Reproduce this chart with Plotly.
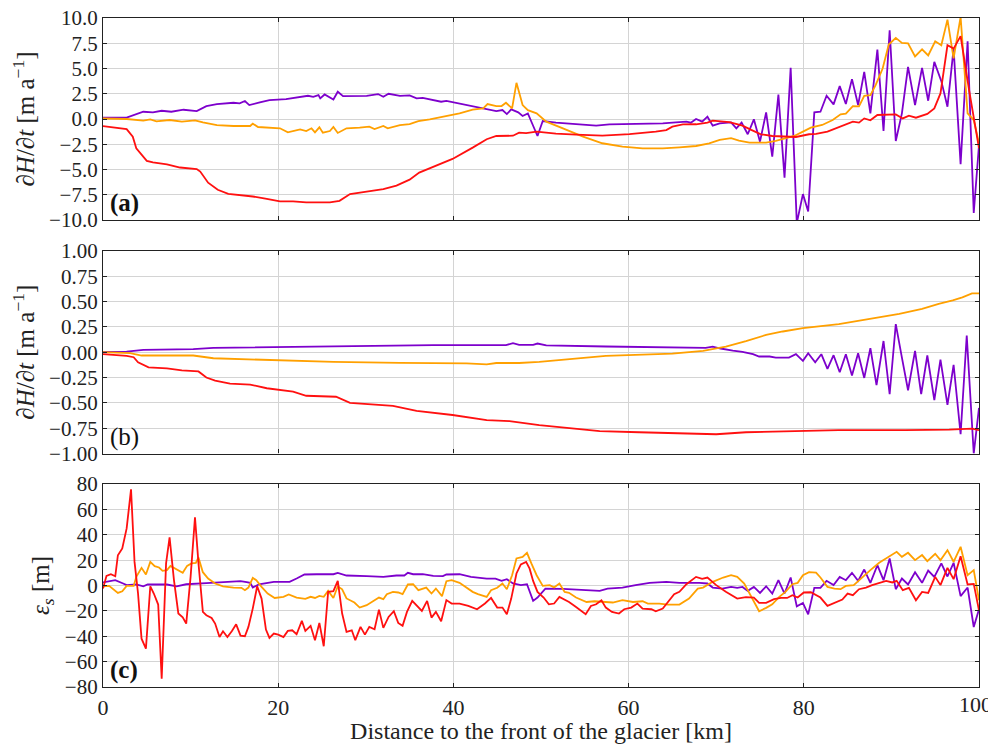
import plotly.graph_objects as go

# ---------------- Panel (a): dH/dt [m/a] ----------------
a_red_x = [0, 2.7, 3.4, 3.8, 5.0, 5.7, 7.3, 8.8, 10.7, 11.1, 12.0, 13.1, 14.3, 15.6, 17.1, 18.7, 20.2, 21.7, 23.2, 25.9,
           27.0, 28.2, 30.1, 32.0, 33.5, 35.0, 36.1, 37.7, 39.9, 42.2, 43.8, 44.9, 46.8, 47.5, 48.3, 49.5, 51.7, 54.0,
           57.0, 60.1, 61.6, 63.1, 64.3, 65.0, 66.2, 67.7, 69.0, 69.6, 71.5, 73.0, 74.0, 75.1, 76.4, 78.0, 79.1, 80.6,
           81.4, 82.7, 84.0, 84.8, 85.6, 86.3, 86.9, 87.6, 88.4, 90.5, 91.3, 92.0, 92.8, 94.1, 94.9, 95.6, 96.4, 97.1,
           97.9, 98.9, 100]
a_red_y = [-0.7, -1.0, -1.75, -2.9, -4.15, -4.3, -4.5, -4.8, -4.95, -5.2, -6.3, -7.0, -7.4, -7.5, -7.67, -7.9, -8.16,
           -8.16, -8.26, -8.26, -8.1, -7.43, -7.17, -6.94, -6.6, -6.0, -5.3, -4.7, -3.95, -2.83, -2.0, -1.68, -1.65,
           -1.35, -1.4, -1.25, -1.45, -1.55, -1.65, -1.5, -1.4, -1.25, -1.1, -0.76, -0.53, -0.52, -0.35, -0.16, -0.3,
           -0.65, -1.08, -1.51, -1.68, -1.74, -1.78, -1.51, -1.48, -1.25, -0.82, -0.6, -0.26, -0.36, 0.06, -0.13, 0.4,
           0.46, 0.06, 0.33, 0.13, 0.5, 1.05, 2.53, 7.3, 6.97, 8.2, 2.7, -2.9]

a_orange_x = [0, 2.7, 4.6, 5.4, 6.1, 7.6, 9.0, 10.5, 11.4, 13.0, 14.9, 16.8, 17.1, 17.7, 20.2, 21.1, 22.5, 23.2, 23.8,
              24.2, 24.7, 25.1, 25.9, 26.3, 26.8, 27.8, 29.3, 30.4, 31.0, 32.0, 32.5, 33.9, 35.0, 36.0, 37.3, 38.8,
              40.7, 42.2, 43.4, 43.9, 44.9, 45.5, 46.0, 46.7, 47.2, 47.9, 48.5, 49.5, 50.6, 52.5, 54.8, 57.0, 59.3,
              61.6, 63.9, 65.8, 67.7, 69.2, 70.4, 71.7, 72.6, 73.8, 75.7, 76.8, 78.0, 78.9, 79.9, 80.8, 82.1, 83.3,
              84.2, 84.8, 85.6, 86.3, 86.9, 87.6, 88.2, 89.0, 89.7, 90.5, 91.2, 91.9, 92.7, 93.5, 94.2, 95.0, 95.7,
              96.4, 97.1, 97.9, 98.7, 99.4, 100]
a_orange_y = [0.05, 0.0, -0.16, -0.03, -0.23, -0.1, -0.26, -0.13, -0.33, -0.6, -0.69, -0.69, -0.46, -0.79, -0.92,
              -1.32, -1.03, -1.19, -0.92, -1.32, -0.82, -1.35, -1.19, -0.79, -1.38, -0.92, -0.86, -0.76, -0.99, -0.69,
              -0.92, -0.6, -0.5, -0.2, -0.03, 0.23, 0.56, 0.92, 1.05, 1.48, 1.28, 1.28, 1.61, 1.05, 3.58, 1.38, 0.88,
              0.56, -0.26, -0.92, -1.75, -2.4, -2.73, -2.9, -2.9, -2.8, -2.67, -2.4, -2.07, -1.9, -2.13, -2.34, -2.34,
              -2.17, -1.9, -1.68, -1.25, -0.86, -0.59, -0.1, 0.46, 0.53, 1.28, 1.25, 2.3, 2.37, 3.36, 5.0, 7.37, 8.03,
              7.54, 7.5, 6.2, 6.9, 6.3, 7.7, 7.3, 9.84, 6.0, 10.1, 0.56, -0.1, -2.4]

a_purple_x = [0, 2.7, 4.6, 5.7, 6.7, 7.8, 9.2, 10.7, 11.8, 13.0, 14.9, 15.6, 16.2, 16.7, 17.9, 19.0, 20.9, 22.5, 23.4,
              24.0, 24.6, 24.8, 25.3, 26.3, 26.8, 27.4, 30.1, 31.4, 32.0, 32.6, 33.9, 35.0, 35.8, 36.5, 37.5, 38.6,
              39.2, 40.3, 41.8, 43.0, 44.1, 44.9, 45.6, 46.1, 46.6, 47.4, 47.9, 48.5, 49.6, 50.2, 51.7, 54.0, 56.3,
              57.8, 61.6, 63.9, 65.4, 66.6, 67.1, 67.7, 68.4, 69.0, 69.6, 70.4, 71.7, 72.3, 72.9, 73.6, 74.3, 75.0,
              75.7, 76.4, 77.1, 77.8, 78.5, 79.2, 79.9, 80.5, 81.2, 81.9, 82.6, 83.4, 84.1, 84.8, 85.5, 86.2, 86.9,
              87.6, 88.4, 89.1, 89.8, 90.5, 91.2, 91.9, 92.7, 93.5, 94.2, 94.9, 95.7, 96.4, 97.1, 97.9, 98.7, 99.4, 100]
a_purple_y = [0.13, 0.13, 0.72, 0.66, 0.82, 0.72, 0.92, 0.79, 1.28, 1.48, 1.61, 1.55, 1.78, 1.38, 1.65, 1.88, 1.97,
              2.14, 2.3, 2.2, 2.37, 2.04, 2.43, 1.94, 2.7, 2.27, 2.3, 2.47, 2.2, 2.5, 2.3, 2.34, 2.04, 2.1, 1.88, 1.71,
              1.8, 1.61, 1.38, 1.12, 0.99, 0.79, 0.89, 0.49, 0.95, 0.66, 0.3, 0.56, -1.68, -0.2, -0.36, -0.5, -0.66,
              -0.53, -0.5, -0.43, -0.33, -0.26, -0.36, 0.0, -0.26, 0.23, -0.66, -0.43, -0.33, -0.92, -0.36, -1.51,
              -0.03, -2.24, 0.66, -3.72, 2.43, -5.8, 5.07, -10.3, -7.43, -9.15, 0.66, 0.72, 2.3, 1.45, 3.26, 1.48,
              3.95, 1.38, 4.67, 0.56, 6.88, -1.18, 8.79, -2.17, 0.56, 5.17, 1.38, 5.07, 1.81, 5.66, 3.75, 1.22, 6.97,
              -4.47, 7.7, -9.3, -2.57]

# ---------------- Panel (b): dH/dt [m/a] ----------------
b_red_x = [0, 2.7, 3.5, 4.0, 5.2, 7.3, 9.0, 10.9, 11.8, 12.8, 14.5, 16.8, 18.7, 20.2, 21.7, 23.2, 26.6, 28.2, 30.1,
           33.1, 35.8, 39.9, 43.8, 46.4, 49.8, 52.9, 56.7, 61.2, 70.0, 73.4, 79.5, 84.0, 91.6, 94.3, 96.6, 99.2, 100]
b_red_y = [-0.02, -0.037, -0.05, -0.10, -0.15, -0.16, -0.18, -0.19, -0.25, -0.28, -0.31, -0.32, -0.356, -0.375,
           -0.39, -0.43, -0.44, -0.50, -0.51, -0.53, -0.58, -0.62, -0.67, -0.68, -0.72, -0.75, -0.78, -0.79, -0.81,
           -0.79, -0.78, -0.77, -0.77, -0.77, -0.765, -0.755, -0.77]

b_orange_x = [0, 3.1, 4.4, 7.3, 10.3, 12.6, 16.8, 20.9, 26.3, 33.9, 41.5, 43.8, 44.9, 47.5, 49.8, 57.4, 65.0, 68.5,
              71.1, 73.4, 75.7, 77.6, 79.9, 84.0, 87.8, 90.9, 93.5, 95.4, 97.0, 98.1, 99.2, 100]
b_orange_y = [0.0, -0.01, -0.033, -0.036, -0.033, -0.06, -0.07, -0.083, -0.096, -0.105, -0.11, -0.12, -0.107, -0.107,
              -0.096, -0.037, -0.014, 0.013, 0.055, 0.11, 0.17, 0.204, 0.237, 0.277, 0.33, 0.378, 0.428, 0.477, 0.51,
              0.54, 0.58, 0.58]

b_purple_x = [0, 2.7, 4.6, 10.3, 12.6, 20.2, 28.2, 37.7, 46.0, 46.8, 47.5, 49.1, 49.6, 50.6, 57.4, 65.0, 68.8, 69.6,
              70.5, 71.9, 73.0, 74.2, 74.9, 76.1, 76.8, 78.3, 79.1, 79.9, 80.5, 81.3, 82.0, 82.7, 83.4, 84.1, 84.8,
              85.5, 86.2, 86.9, 87.6, 88.3, 89.1, 89.8, 90.5, 91.2, 91.9, 92.7, 93.4, 94.1, 94.9, 95.6, 96.4, 97.1,
              97.9, 98.6, 99.4, 100]
b_purple_y = [0.003, 0.005, 0.023, 0.03, 0.042, 0.052, 0.062, 0.069, 0.069, 0.089, 0.072, 0.072, 0.085, 0.066, 0.056,
              0.046, 0.042, 0.055, 0.036, 0.016, 0.003, -0.02, -0.043, -0.043, -0.053, -0.053, -0.02, -0.086, -0.01,
              -0.1, -0.02, -0.165, -0.03, -0.198, -0.02, -0.231, -0.01, -0.254, 0.039, -0.326, 0.11, -0.415, 0.277,
              -0.053, -0.376, 0.013, -0.415, -0.033, -0.474, -0.073, -0.52, -0.125, -0.81, 0.164, -1.0, -0.55]

# ---------------- Panel (c): eps_s [m] ----------------
c_red_x = [0, 0.4, 0.9, 1.4, 1.7, 2.2, 2.7, 3.2, 3.6, 4.0, 4.4, 4.9, 5.4, 5.8, 6.3, 6.7, 7.2, 7.6, 8.1, 8.6, 9.1, 9.5,
           10.0, 10.5, 10.9, 11.4, 11.8, 12.4, 12.8, 13.3, 13.7, 14.2, 14.7, 15.2, 15.7, 16.2, 16.6, 17.1, 17.6, 18.1,
           18.6, 19.0, 19.5, 20.0, 20.6, 21.1, 21.6, 22.1, 22.7, 23.1, 23.7, 24.2, 24.7, 25.2, 25.7, 26.3, 26.8, 27.3,
           27.8, 28.4, 28.8, 29.4, 29.9, 30.4, 31.0, 31.5, 32.0, 32.6, 33.2, 33.7, 34.2, 34.7, 35.3, 35.8, 36.4, 37.0,
           37.5, 38.0, 38.6, 39.2, 39.8, 40.7, 41.7, 42.7, 43.6, 44.3, 45.0, 45.6, 46.1, 46.6, 47.2, 47.7, 48.3, 48.7,
           49.1, 49.6, 50.3, 50.9, 51.5, 52.1, 52.7, 53.2, 54.0, 55.1, 55.7, 56.3, 56.9, 57.4, 58.1, 58.9, 59.5, 60.3,
           61.0, 61.6, 62.6, 63.1, 63.9, 64.7, 65.2, 65.8, 66.6, 67.7, 68.4, 69.0, 70.0, 71.1, 72.4, 73.4, 74.3, 74.9,
           75.7, 76.6, 77.4, 78.1, 78.7, 79.3, 80.0, 80.8, 81.9, 82.7, 83.7, 84.4, 85.0, 85.6, 86.3, 87.1, 87.8, 88.6,
           89.4, 90.1, 90.6, 91.3, 92.0, 92.8, 93.5, 94.2, 95.0, 95.6, 96.4, 97.1, 97.9, 98.7, 99.4, 100]
c_red_y = [-2.4, 7.6, 8.9, 7.3, 23.9, 29.2, 45, 75.8, 18.6, -6.3, -41.9, -49.8, -0.6, -6.3, -15, -73.5, 17.4, 37.9,
           4.2, -22, -25, -30, 6.8, 53.7, 17.4, -20.8, -23.4, -25.6, -30, -40.6, -36.1, -40.6, -36, -30.6, -39.5, -40,
           -32.6, -18, -0.6, -10.3, -34.7, -41.3, -37.9, -38.7, -40.6, -35.8, -35.3, -38.4, -27.9, -35.8, -31.8,
           -43.1, -29.5, -47.9, -5, -4.5, 3.6, -22.1, -36.6, -35.3, -43.1, -32.6, -38.7, -32.6, -34.5, -19, -33.4,
           -24.8, -20.3, -29.5, -31.8, -20.8, -12.1, -16.1, -20, -12.1, -25.3, -20.8, -28.2, -11.5, -14.2, -14.2,
           -16.1, -18.7, -14.2, -9.8, -17.4, -17.4, -22.6, -10.3, 9.5, 16.6, 18.6, 13.3, 3.6, -5, -9.5, -14.8, -14.2,
           -9, -11.1, -13, -16.9, -22.6, -16.1, -14.8, -11.6, -17.4, -20.8, -22.1, -18.7, -17.4, -14.2, -18.2, -18.7,
           -20.3, -18.2, -11.6, -6.9, -5, 1.0, 6.8, 5.2, 6.3, 0.3, -5, -10.3, -9.2, -9.5, -13.7, -13.7, -10.8, -9.8,
           -9.8, -7.6, -9.5, -5.5, -5.3, -9.5, -16.1, -13, -11.1, -6.4, -7.6, -2.9, -1.6, 0.3, 2.1, 3.7, 2.4, 3.7,
           -3.7, -1.8, -11.6, -5, -5.8, 6.8, 0.3, 13.9, 5, 23.1, 0.8, 1.3, -19.5]

c_orange_x = [0, 0.7, 1.7, 2.2, 2.7, 3.5, 3.8, 4.4, 4.9, 5.4, 5.9, 6.4, 6.8, 7.3, 7.7, 8.2, 9.1, 9.6, 10.1, 10.6, 10.9,
              11.4, 12.0, 12.8, 13.7, 14.9, 15.8, 16.2, 16.6, 17.1, 17.5, 18.1, 18.8, 19.6, 20.6, 21.2, 22.1, 23.1,
              23.7, 24.2, 24.7, 25.2, 25.7, 26.3, 26.8, 27.3, 27.8, 28.7, 29.3, 30.1, 30.7, 31.5, 32.0, 32.4, 33.1,
              33.7, 34.2, 34.8, 35.4, 36.0, 36.9, 37.5, 38.0, 38.7, 39.2, 39.8, 40.7, 41.5, 42.2, 42.8, 43.8, 44.3,
              45.0, 45.6, 46.1, 46.7, 47.2, 47.9, 48.4, 48.9, 49.5, 50.2, 51.0, 51.5, 52.1, 52.7, 53.2, 54.0, 55.2,
              56.1, 57.0, 58.2, 59.3, 60.5, 61.6, 62.2, 63.5, 64.5, 65.8, 66.9, 67.9, 68.5, 69.6, 70.8, 71.7, 72.4,
              73.2, 74.0, 74.9, 75.7, 76.4, 77.2, 77.9, 78.7, 79.3, 79.9, 80.6, 81.4, 81.9, 82.7, 83.5, 84.2, 84.8,
              85.7, 86.5, 87.6, 88.6, 89.7, 90.6, 91.2, 91.9, 92.7, 93.5, 94.1, 95.0, 95.6, 96.4, 97.1, 97.9, 98.7,
              99.4, 100]
c_orange_y = [-0.6, -0.3, -5.8, -4.5, -0.3, -0.3, 6.8, 13.9, 8.7, 18.6, 15.3, 14.2, 11.6, 12.1, 15.5, 13.4, 10, 15.5,
              17.4, 17.9, 22.1, 10.5, 5.5, 1.6, -0.6, -1.6, -1.8, -3.7, -1.6, 6, 4.2, -1.1, -6.3, -9.8, -8.9, -7.1,
              -9.5, -10.5, -8.9, -9.8, -8.2, -8.9, -4.2, -9.8, -0.6, -3, -10.2, -13.4, -17.4, -15.5, -12.9, -9.5,
              -10.8, -6.8, -5, -5.5, -6.8, 0.8, 1.0, -3.7, -1.6, -6.3, -2.4, -8.4, 3.4, 4.2, 2.1, -1.6, -5, -6.8, -9,
              -3.7, -1.8, 1.6, -2.9, 8.1, 21.3, 22.6, 25.8, 17.4, 8.1, -0.3, 0.3, -1.6, 1.6, -5, -5.8, -9.5, -13,
              -12.4, -13, -13.4, -11.6, -13, -12.4, -14.2, -14.2, -15, -15, -10.3, -2.4, -1.6, 2.9, 6.3, 8.1, 6.8,
              1.6, -9, -20.3, -17.6, -14.8, -9, -5, 1, 2.1, 8.1, 10.5, 10.2, 6.3, -1.1, -2.4, -2.9, -0.3, 0.3, 5.5,
              12.1, 17.9, 22.6, 26.6, 22.6, 25.8, 20, 24, 19.2, 25, 20, 27.9, 18.7, 30.5, 8.1, 12.1, -11.6]

c_purple_x = [0, 1.4, 2.3, 2.7, 3.8, 4.6, 5.1, 7.3, 8.4, 9.5, 11.8, 14.1, 15.7, 16.4, 16.8, 17.1, 17.8, 19.5, 21.3,
              22.1, 23.0, 24.4, 26.3, 26.8, 27.8, 30.1, 32.0, 33.5, 34.4, 34.8, 35.4, 36.5, 37.7, 38.8, 39.2, 40.7,
              42.0, 43.8, 44.8, 45.5, 46.1, 46.8, 47.7, 48.4, 49.1, 49.6, 50.5, 52.5, 54.8, 56.7, 57.6, 59.3, 60.8,
              62.4, 64.3, 65.8, 68.1, 69.0, 69.6, 70.7, 71.7, 72.4, 73.0, 73.6, 74.3, 75.0, 75.7, 76.4, 77.1, 77.8,
              78.5, 79.2, 79.9, 80.5, 81.2, 81.9, 82.6, 83.4, 84.1, 84.8, 85.5, 86.2, 86.9, 87.6, 88.4, 89.1, 89.8,
              90.5, 91.2, 91.9, 92.7, 93.5, 94.2, 94.9, 95.7, 96.4, 97.1, 97.9, 98.7, 99.4, 100]
c_purple_y = [2.4, 4.2, 1.6, 0.3, 0.8, -0.6, 0.8, 0.8, -0.6, 1.0, 1.8, 2.6, 3.4, 2.6, 2.1, -1.6, 1.0, 2.9, 2.9, 5.5,
              8.7, 8.9, 8.9, 10, 7.9, 7.4, 6.8, 7.9, 7.9, 10, 8.9, 8.9, 7.6, 7.4, 8.7, 8.9, 6.8, 5.5, 5.5, 3.7, 5, 1.6,
              0.3, 1.0, -12.1, -9.5, -2.4, -2.6, -3.2, -4.2, -2.4, -1.6, 0.3, 2.1, 2.9, 2.1, 2.1, 1.6, -1.6, -2.4,
              -1.1, -1.8, -1.1, -4.2, -1.1, -5.8, -0.6, -6.3, 4.2, -6.3, 6.3, -16.4, -13.7, -22.7, -1.8, -1.8, 3.7,
              0.3, 6.8, 4.2, 10, 3.7, 12.6, 2.1, 16, 4.2, 21.3, -2.9, 5.5, 0.8, 10.5, 2.1, 11.8, 6.8, 17.4, 7.1, 17.9,
              -8.4, -1.6, -32.7, -18.7]

x_ticks = [0, 20, 40, 60, 80, 100]
panel_labels = ["(a)", "(b)", "(c)"]
x_title = "Distance to the front of the glacier [km]"
y_titles = ["<i>∂H</i>/<i>∂t</i> [m a<sup>−1</sup>]", "<i>∂H</i>/<i>∂t</i> [m a<sup>−1</sup>]", "<i>ε<sub>s</sub></i> [m]"]

RED, ORANGE, PURPLE = "#ff1010", "#ffa000", "#7d00cc"
FONT = "Liberation Serif, DejaVu Serif, serif"
INK = "#222222"

fig = go.Figure()

def add(x, y, color, k):
    assert len(x) == len(y), (len(x), len(y))
    sfx = "" if k == 1 else str(k)
    fig.add_trace(go.Scatter(x=x, y=y, mode="lines", line=dict(color=color, width=1.8),
                             xaxis="x" + sfx, yaxis="y" + sfx, showlegend=False, hoverinfo="skip"))

add(a_purple_x, a_purple_y, PURPLE, 1)
add(a_orange_x, a_orange_y, ORANGE, 1)
add(a_red_x, a_red_y, RED, 1)
add(b_purple_x, b_purple_y, PURPLE, 2)
add(b_orange_x, b_orange_y, ORANGE, 2)
add(b_red_x, b_red_y, RED, 2)
add(c_purple_x, c_purple_y, PURPLE, 3)
add(c_orange_x, c_orange_y, ORANGE, 3)
add(c_red_x, c_red_y, RED, 3)

grid = "#d4d4d4"
def xax(anchor, labels):
    return dict(range=[0, 100], tickvals=x_ticks, showticklabels=labels, showgrid=True, gridcolor=grid,
                gridwidth=1, showline=True, linecolor=INK, linewidth=1.3, mirror="ticks", ticks="inside",
                ticklen=4, tickcolor=INK, zeroline=False, anchor=anchor, domain=[0, 1], automargin=False,
                ticklabeloverflow="allow", tickfont=dict(family=FONT, size=22, color=INK))

def yax(anchor, dom, rng, dtick, fmt, title):
    return dict(range=rng, dtick=dtick, tick0=rng[0], tickformat=fmt, showgrid=True, gridcolor=grid, gridwidth=1,
                showline=True, linecolor=INK, linewidth=1.3, mirror="ticks", ticks="inside", ticklen=4,
                tickcolor=INK, zeroline=False, anchor=anchor, domain=dom, automargin=False,
                ticklabeloverflow="allow", tickfont=dict(family=FONT, size=21, color=INK),
                title=dict(text=title, font=dict(family=FONT, size=25, color=INK), standoff=8))

xa3 = xax("y3", True)
# last tick label ("100") is drawn as an annotation nudged left so it stays inside the page
xa3["ticktext"] = [str(v) if v != x_ticks[-1] else "" for v in x_ticks]
xa3["title"] = dict(text=x_title, font=dict(family=FONT, size=24, color=INK), standoff=8)

# The page body has an 8px default margin, so the figure is sized 8px smaller
# and its margins reduced by 8px to land the plot areas where the reference has them.
fig.update_layout(
    width=988, height=736, plot_bgcolor="white", paper_bgcolor="white",
    font=dict(family=FONT, size=22, color=INK),
    margin=dict(l=95, r=17, t=10, b=57),
    xaxis=xax("y", False), xaxis2=xax("y2", False), xaxis3=xa3,
    yaxis=yax("x", [0.698, 1.0], [-10, 10], 2.5, ".1f", y_titles[0]),
    yaxis2=yax("x2", [0.349, 0.652], [-1, 1], 0.25, ".2f", y_titles[1]),
    yaxis3=yax("x3", [0.0, 0.3034], [-80, 80], 20, "d", y_titles[2]),
)

fig.add_annotation(text=str(x_ticks[-1]), xref="x3", yref="y3 domain", x=x_ticks[-1], y=0, yshift=-3,
                   xanchor="center", yanchor="top", xshift=-4, showarrow=False,
                   font=dict(family=FONT, size=22, color=INK))

for i, (lab, bold) in enumerate(zip(panel_labels, [True, False, True])):
    sfx = "" if i == 0 else str(i + 1)
    fig.add_annotation(text=f"<b>{lab}</b>" if bold else lab, xref=f"x{sfx} domain", yref=f"y{sfx} domain",
                       x=0.006, y=0.005, xanchor="left", yanchor="bottom", showarrow=False,
                       font=dict(family=FONT, size=25, color="#111111"))

fig.write_html("out.html")
